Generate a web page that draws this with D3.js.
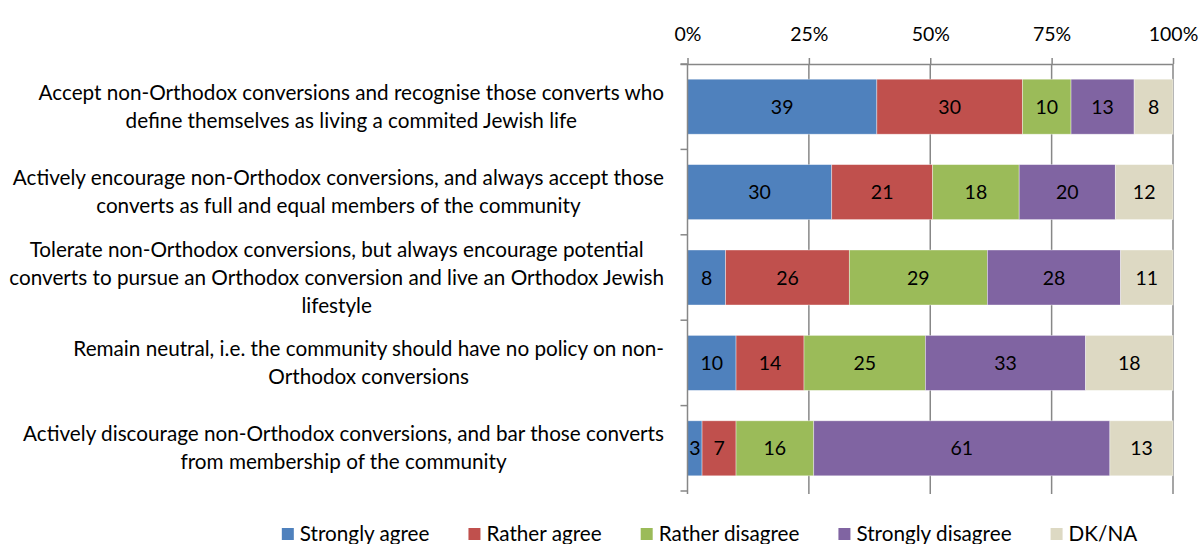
<!DOCTYPE html>
<html>
<head>
<meta charset="utf-8">
<script src="https://cdn.jsdelivr.net/npm/d3@7"></script>
<style>
  html, body { margin: 0; padding: 0; background: #fff; }
  svg { display: block; }
  text { font-family: Lato, "Noto Sans", sans-serif; fill: #000; }
</style>
</head>
<body>
<svg id="chart" width="1200" height="544"></svg>
<script>
// Survey statements (one bar each), wrapped as they are printed
const categories = [
  ["Accept non-Orthodox conversions and recognise those converts who",
   "define themselves as living a commited Jewish life"],
  ["Actively encourage non-Orthodox conversions, and always accept those",
   "converts as full and equal members of the community"],
  ["Tolerate non-Orthodox conversions, but always encourage potential",
   "converts to pursue an Orthodox conversion and live an Orthodox Jewish",
   "lifestyle"],
  ["Remain neutral, i.e. the community should have no policy on non-",
   "Orthodox conversions"],
  ["Actively discourage non-Orthodox conversions, and bar those converts",
   "from membership of the community"]
];

const seriesNames = ["Strongly agree", "Rather agree", "Rather disagree", "Strongly disagree", "DK/NA"];

// Percentages per answer, in the order of the statements above
const stronglyAgree    = [39, 30, 8, 10, 3];
const ratherAgree      = [30, 21, 26, 14, 7];
const ratherDisagree   = [10, 18, 29, 25, 16];
const stronglyDisagree = [13, 20, 28, 33, 61];
const dkNa             = [8, 12, 11, 18, 13];

const tickValues = [0, 0.25, 0.5, 0.75, 1];

const colors = ["#4F81BD", "#C0504D", "#9BBB59", "#8064A2", "#DDD9C3"];

const seriesValues = [stronglyAgree, ratherAgree, ratherDisagree, stronglyDisagree, dkNa];

// Rows for the stack: each statement normalised to 100%
const rows = categories.map((c, i) => {
  const row = { key: i };
  const total = d3.sum(seriesValues, s => s[i]);
  seriesNames.forEach((name, j) => {
    row[name] = seriesValues[j][i];
    row["_share_" + name] = seriesValues[j][i] / total;
  });
  return row;
});

const svg = d3.select("#chart");
const plot = { left: 687.5, right: 1173, top: 64, bottom: 491 };

const x = d3.scaleLinear().domain([0, 1]).range([plot.left, plot.right]);
const y = d3.scaleBand()
  .domain(categories.map((c, i) => i))
  .range([plot.top, plot.bottom])
  .paddingInner(0.356)
  .paddingOuter(0.178);

const stack = d3.stack()
  .keys(seriesNames)
  .value((d, key) => d["_share_" + key]);
const stacked = stack(rows);

// Vertical gridlines
const gridColor = "#878787";
svg.append("g")
  .selectAll("line")
  .data(tickValues.filter(t => t > 0))
  .join("line")
  .attr("x1", d => x(d)).attr("x2", d => x(d))
  .attr("y1", plot.top).attr("y2", plot.bottom + 3)
  .attr("stroke", gridColor).attr("stroke-width", 1.5);

// Bars
const layers = svg.append("g")
  .selectAll("g")
  .data(stacked)
  .join("g")
  .attr("fill", (d, i) => colors[i]);

layers.selectAll("rect")
  .data(d => d)
  .join("rect")
  .attr("x", d => x(d[0]))
  .attr("width", d => x(d[1]) - x(d[0]))
  .attr("y", (d, i) => y(i))
  .attr("height", y.bandwidth())
  .attr("stroke", "#ffffff")
  .attr("stroke-opacity", 0.5)
  .attr("stroke-width", 0.75);

// Value labels centred in each segment
layers.selectAll("text")
  .data((d, si) => d.map((p, i) => ({ p, i, v: seriesValues[si][i] })))
  .join("text")
  .attr("x", d => (x(d.p[0]) + x(d.p[1])) / 2)
  .attr("y", d => y(d.i) + y.bandwidth() / 2 + 7)
  .attr("text-anchor", "middle")
  .attr("font-size", 19.5)
  .text(d => d.v);

// Top axis
const xAxis = d3.axisTop(x)
  .tickValues(tickValues)
  .tickFormat(d3.format(".0%"))
  .tickSize(6)
  .tickSizeOuter(0);

const ax = svg.append("g")
  .attr("transform", `translate(0,${plot.top})`)
  .call(xAxis);
ax.select(".domain").attr("stroke", gridColor).attr("stroke-width", 1.5)
  .attr("d", `M${plot.left - 7},0.5H${plot.right}`);
ax.selectAll(".tick line").attr("stroke", gridColor).attr("stroke-width", 1.5);
ax.selectAll(".tick text")
  .attr("font-size", 19.5)
  .attr("font-family", "Lato, sans-serif")
  .attr("fill", "#000")
  .attr("y", -23);

// Left category axis: vertical line with ticks between bars
const yBoundaries = d3.range(categories.length + 1)
  .map(i => plot.top + i * (plot.bottom - plot.top) / categories.length);
const left = svg.append("g");
left.append("line")
  .attr("x1", plot.left).attr("x2", plot.left)
  .attr("y1", plot.top).attr("y2", plot.bottom + 3)
  .attr("stroke", gridColor).attr("stroke-width", 1.5);
left.selectAll("line.tk")
  .data(yBoundaries)
  .join("line")
  .attr("class", "tk")
  .attr("x1", plot.left - 7).attr("x2", plot.left)
  .attr("y1", d => d).attr("y2", d => d)
  .attr("stroke", gridColor).attr("stroke-width", 1.5);

// Category labels: each block centred on its widest line, block right edge fixed
const labelRight = 664;
const lineH = 28;
const labels = svg.append("g");
categories.forEach((lines, i) => {
  const g = labels.append("g");
  const texts = g.selectAll("text")
    .data(lines)
    .join("text")
    .attr("font-size", 20.7)
    .attr("text-anchor", "middle")
    .text(d => d);
  const maxW = d3.max(texts.nodes(), n => n.getComputedTextLength());
  const cx = labelRight - maxW / 2;
  const cy = y(i) + y.bandwidth() / 2;
  texts
    .attr("x", cx)
    .attr("y", (d, k) => cy + 7 + (k - (lines.length - 1) / 2) * lineH);
});

// Legend along the bottom
const legend = svg.append("g");
const items = legend.selectAll("g")
  .data(seriesNames)
  .join("g");
items.append("rect")
  .attr("width", 12).attr("height", 12)
  .attr("y", 528)
  .attr("fill", (d, i) => colors[i]);
items.append("text")
  .attr("x", 18)
  .attr("y", 540.5)
  .attr("font-size", 20.7)
  .text(d => d);
const widths = items.nodes().map(n => 18 + d3.select(n).select("text").node().getComputedTextLength());
const gap = 39;
const totalW = d3.sum(widths) + gap * (widths.length - 1);
let cursor = 709.5 - totalW / 2;
items.each(function (d, i) {
  d3.select(this).attr("transform", `translate(${cursor},0)`);
  cursor += widths[i] + gap;
});
</script>
</body>
</html>
